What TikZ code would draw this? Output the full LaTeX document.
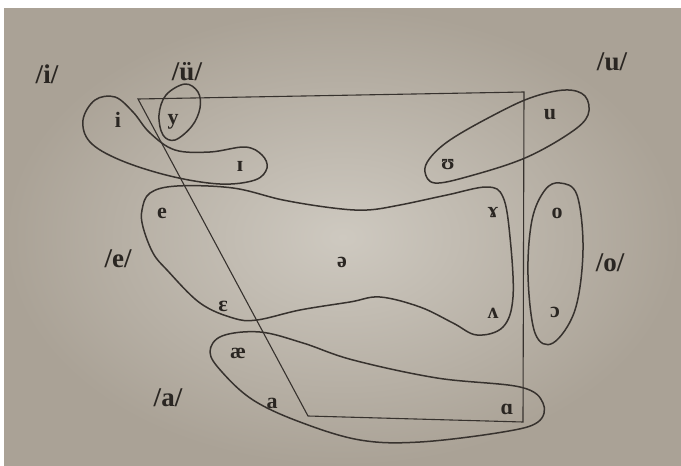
\documentclass[tikz,border=0pt]{standalone}
\usepackage{fontspec}
\setmainfont{Liberation Serif}
\begin{document}
\begin{tikzpicture}[x=1pt,y=-1pt,
  blob/.style={draw=inkline,line width=1.5pt,line join=round,tension=0.6},
  chart/.style={draw=inkline,line width=1.1pt,line join=miter},
  sym/.style={text=inktext,font=\fontsize{22}{22}\selectfont\bfseries,inner sep=0pt},
  lab/.style={text=inktext,font=\fontsize{27}{27}\selectfont\bfseries,inner sep=0pt}]
\definecolor{inkline}{RGB}{55,50,46}
\definecolor{inktext}{RGB}{42,38,34}
\definecolor{paperin}{RGB}{206,201,192}
\definecolor{paperout}{RGB}{170,162,150}
\useasboundingbox (0,0) rectangle (681,466);
\fill[white] (0,0) rectangle (681,466);
\shade[inner color=paperin,outer color=paperout] (4,8) rectangle (681,466);
% trapezoid
\coordinate (tl) at (138,99);
\coordinate (tr) at (524,92);
\coordinate (br) at (523,422);
\coordinate (bl) at (308,416);
\draw[chart] (tl) -- (tr) -- (br) -- (bl) -- cycle;
% blobs
\draw[blob] plot[smooth cycle] coordinates {(83,120) (95,100) (115,97) (133,112) (150,133) (175,150) (210,152) (245,147) (262,155) (267,168) (255,180) (220,184) (170,176) (120,160) (90,142)};
\draw[blob] plot[smooth cycle] coordinates {(185,84) (198,92) (200,108) (192,126) (175,140) (163,135) (159,115) (166,95)};
\draw[blob] plot[smooth cycle] coordinates {(430,158) (450,140) (490,117) (530,98) (565,90) (585,96) (588,115) (570,133) (525,158) (470,176) (435,183) (425,172)};
\draw[blob] plot[smooth cycle] coordinates {(142,210) (150,193) (177,186) (233,188) (283,200) (333,208) (367,210) (400,205) (447,195) (487,187) (503,197) (510,237) (513,297) (503,327) (477,335) (453,323) (420,307) (380,297) (350,302) (300,310) (257,320) (233,318) (200,303) (167,270) (153,253) (143,227)};
\draw[blob] plot[smooth cycle] coordinates {(560,183) (577,195) (583,250) (575,310) (553,343) (535,333) (528,275) (532,220) (545,190)};
\draw[blob] plot[smooth cycle] coordinates {(210,352) (222,336) (260,332) (303,343) (353,360) (437,378) (520,387) (543,403) (538,422) (503,432) (420,442) (360,440) (300,422) (253,400) (222,372)};
% labels
\node[lab] (Li) at (47,74) {/i/};
\node[lab] (Lu) at (187,72) {/ü/};
\node[lab] (Lup) at (612,62) {/u/};
\node[lab] (Le) at (118,259) {/e/};
\node[lab] (Lo) at (610,263) {/o/};
\node[lab] (La) at (168,398) {/a/};
% symbols
\node[sym] (si) at (118,120) {i};
\node[sym] (sy) at (173,122) {y};
\node[sym] (sI) at (240,166) {ɪ};
\node[sym] (su) at (550,115) {u};
\node[sym] (sU) at (448,165) {ʊ};
\node[sym] (se) at (162,213) {e};
\node[sym] (sschwa) at (342,262) {ə};
\node[sym] (seps) at (223,306) {ɛ};
\node[sym] (sram) at (493,213) {ɤ};
\node[sym] (swedge) at (493,313) {ʌ};
\node[sym] (so) at (557,213) {o};
\node[sym] (sopen) at (555,312) {ɔ};
\node[sym] (sae) at (238,353) {æ};
\node[sym] (sa) at (272,403) {a};
\node[sym] (salpha) at (507,409) {ɑ};
\end{tikzpicture}
\end{document}
